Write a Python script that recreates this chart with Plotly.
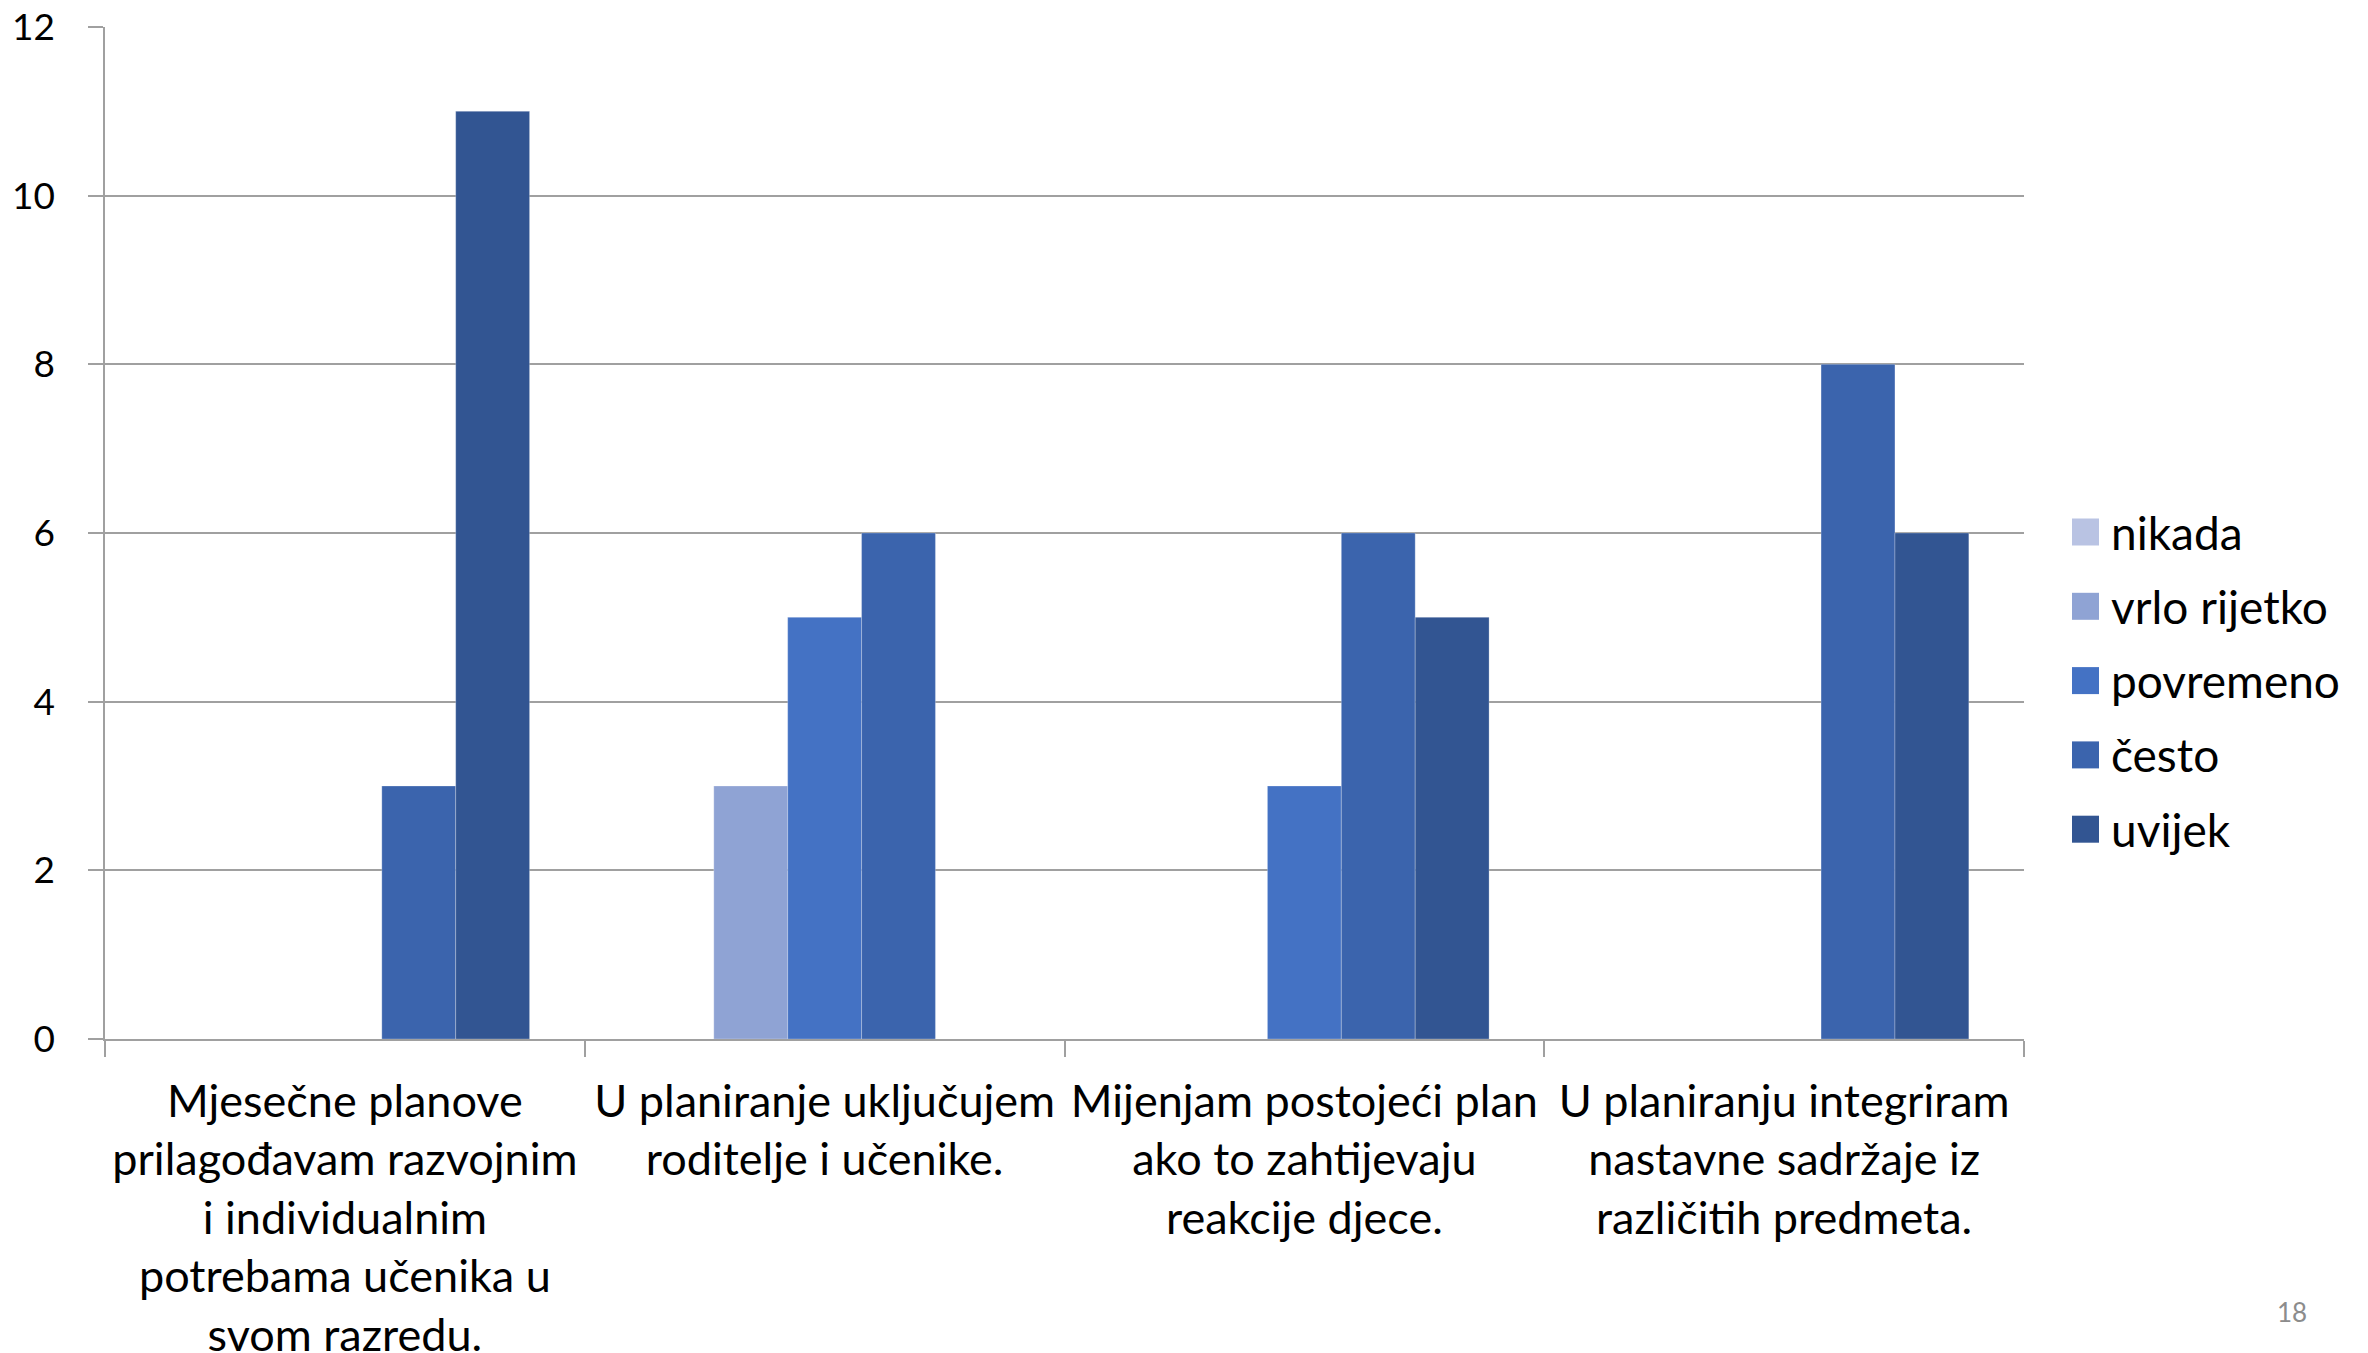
import plotly.graph_objects as go

categories = [
    "Mjesečne planove<br>prilagođavam razvojnim<br>i individualnim<br>potrebama učenika u<br>svom razredu.",
    "U planiranje uključujem<br>roditelje i učenike.",
    "Mijenjam postojeći plan<br>ako to zahtijevaju<br>reakcije djece.",
    "U planiranju integriram<br>nastavne sadržaje iz<br>različitih predmeta.",
]
series_names = ["nikada", "vrlo rijetko", "povremeno", "često", "uvijek"]
nikada = [0, 0, 0, 0]
vrlo_rijetko = [0, 3, 0, 0]
povremeno = [0, 5, 3, 0]
cesto = [3, 6, 6, 8]
uvijek = [11, 0, 5, 6]
colors = ["#B9C3E3", "#8FA3D4", "#4472C4", "#3B64AD", "#325592"]

values = [nikada, vrlo_rijetko, povremeno, cesto, uvijek]

FONT = "Lato, 'Open Sans', sans-serif"

# plot area in page pixels (used to place the custom legend in paper coords)
PL, PR, PT, PB = 105, 2024, 27, 1039
PW, PH = PR - PL, PB - PT

def px_x(x):
    return (x - PL) / PW

def px_y(y):
    return (PB - y) / PH

fig = go.Figure()
for name, vals, col in zip(series_names, values, colors):
    fig.add_trace(go.Bar(
        x=categories, y=vals, name=name, showlegend=False,
        marker=dict(color=col, line=dict(color="rgba(255,255,255,0.25)", width=1)),
    ))

# custom legend (large square swatches like the original)
shapes = []
annotations = []
leg_top, leg_step, sw = 532, 74.3, 27
for i, (name, col) in enumerate(zip(series_names, colors)):
    yc = leg_top + i * leg_step
    shapes.append(dict(
        type="rect", xref="paper", yref="paper",
        x0=px_x(2072), x1=px_x(2072 + sw),
        y0=px_y(yc + sw / 2), y1=px_y(yc - sw / 2),
        fillcolor=col, line=dict(width=0),
    ))
    annotations.append(dict(
        text=name, xref="paper", yref="paper", x=px_x(2109), y=px_y(yc),
        xanchor="left", yanchor="middle", showarrow=False,
        font=dict(size=46, family=FONT, color="black"),
    ))

annotations.append(dict(
    text="18", xref="paper", yref="paper", x=px_x(2292), y=px_y(1312),
    showarrow=False, font=dict(size=26, color="#8C8C8C", family=FONT),
    xanchor="center", yanchor="middle",
))

fig.update_layout(
    width=2368, height=1353,
    paper_bgcolor="white", plot_bgcolor="white",
    margin=dict(l=97, r=352, t=19, b=322),
    barmode="group", bargap=0.23, bargroupgap=0,
    font=dict(family=FONT, size=40, color="black"),
    showlegend=False,
    xaxis=dict(
        type="category", tickson="boundaries", ticks="outside", ticklen=16,
        tickcolor="#A0A0A0", tickwidth=1.5,
        showline=True, linecolor="#A0A0A0", linewidth=1.5,
        showgrid=False, automargin=False,
        ticklabelstandoff=22, ticklabeloverflow="allow",
        tickfont=dict(size=45, family=FONT, color="black"),
    ),
    yaxis=dict(
        range=[0, 12], tickmode="array", tickvals=[0, 2, 4, 6, 8, 10, 12],
        ticks="outside", ticklen=15,
        tickcolor="#A0A0A0", tickwidth=1.5,
        showline=True, linecolor="#A0A0A0", linewidth=1.5,
        showgrid=True, gridcolor="#A0A0A0", gridwidth=1.5,
        zeroline=False, automargin=False,
        ticklabelstandoff=26, ticklabeloverflow="allow",
        tickfont=dict(size=37, family=FONT, color="black"),
    ),
    shapes=shapes,
    annotations=annotations,
)

fig.write_html("out.html")
